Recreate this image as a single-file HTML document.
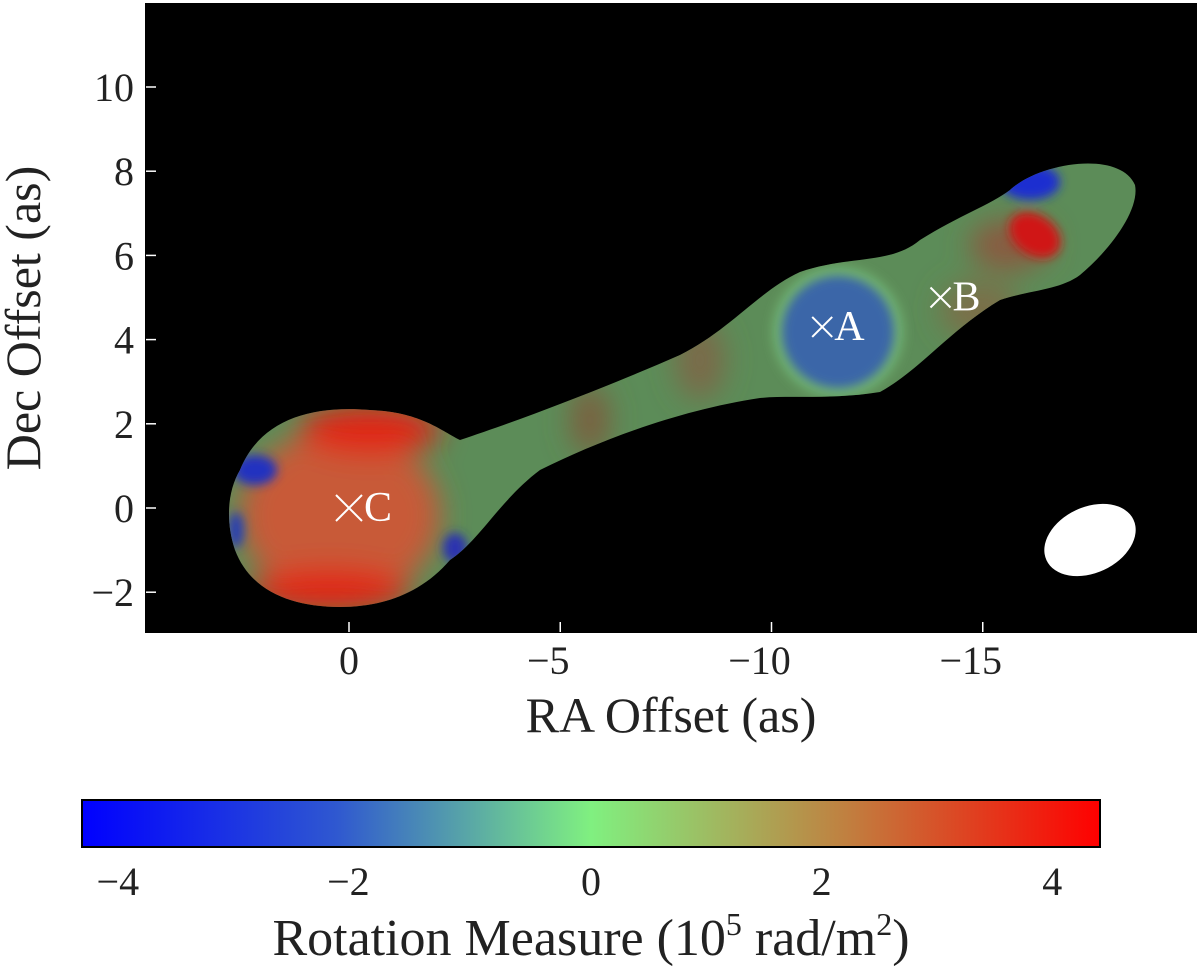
<!DOCTYPE html>
<html><head><meta charset="utf-8"><style>
body{margin:0;background:#fff;}
svg text{font-family:"Liberation Serif",serif;fill:#222;}
</style></head><body>
<svg id="c" width="1200" height="970" xmlns="http://www.w3.org/2000/svg">
<defs>
<clipPath id="blobClip"><path d="M240,470 C260,420 310,405 370,410 C420,412 440,430 460,440 C520,420 600,390 680,355 C730,330 760,290 800,272 C850,255 890,265 920,240 C960,215 990,205 1010,190 C1040,162 1120,150 1135,185 C1140,210 1110,250 1080,275 C1060,290 1030,290 1000,300 C950,330 920,370 880,392 C830,400 790,395 760,398 C680,410 600,440 540,470 C500,500 480,540 450,560 C420,595 380,607 340,607 C290,607 250,590 235,550 C225,520 228,490 240,470 Z"/></clipPath>
<filter id="bl" x="-50%" y="-50%" width="200%" height="200%"><feGaussianBlur stdDeviation="14"/></filter>
<filter id="bl2" x="-50%" y="-50%" width="200%" height="200%"><feGaussianBlur stdDeviation="5"/></filter>
<linearGradient id="cbar" x1="0" x2="1">
<stop offset="0" stop-color="#0000ff"/><stop offset="0.25" stop-color="#2f58d0"/><stop offset="0.5" stop-color="#80f080"/><stop offset="0.75" stop-color="#c08040"/><stop offset="1" stop-color="#ff0000"/>
</linearGradient>
</defs>
<rect x="146" y="4" width="1050" height="628" fill="#000"/>
<g clip-path="url(#blobClip)">
<rect x="146" y="4" width="1050" height="628" fill="#5c8c58"/>
<g filter="url(#bl)">
<ellipse cx="340" cy="515" rx="100" ry="85" fill="#c85a38"/>
<ellipse cx="370" cy="430" rx="70" ry="25" fill="#e02818"/>
<ellipse cx="330" cy="590" rx="80" ry="22" fill="#e02818"/>
<ellipse cx="700" cy="360" rx="25" ry="40" fill="#7a6a48"/>
<ellipse cx="590" cy="420" rx="20" ry="35" fill="#7a6040"/>
<ellipse cx="980" cy="310" rx="40" ry="30" fill="#7a7048"/>
<ellipse cx="1010" cy="245" rx="40" ry="25" fill="#8a5a40"/>
</g>
<circle cx="838" cy="332" r="66" fill="#70b070" filter="url(#bl2)"/>
<circle cx="838" cy="332" r="56" fill="#3a66a8" filter="url(#bl2)"/>
<g filter="url(#bl2)">
<ellipse cx="1035" cy="235" rx="28" ry="20" transform="rotate(35 1035 235)" fill="#d01818"/>
<ellipse cx="1030" cy="182" rx="30" ry="18" fill="#1a2ed0"/>
<ellipse cx="255" cy="470" rx="22" ry="15" fill="#2030c0"/>
<ellipse cx="455" cy="548" rx="12" ry="15" fill="#2a30b0"/>
<ellipse cx="236" cy="530" rx="8" ry="18" fill="#2a40b0"/>
</g>
</g>
<ellipse cx="1090" cy="540" rx="48" ry="33" transform="rotate(-25 1090 540)" fill="#fff"/>
<rect x="146" y="4" width="1050" height="628" fill="none" stroke="#000" stroke-width="2"/>
<g id="axes"></g>
<g id="marks"></g>
<text x="671" y="732" font-size="50" text-anchor="middle">RA Offset (as)</text>
<text transform="translate(40 318) rotate(-90)" font-size="50" text-anchor="middle">Dec Offset (as)</text>
<rect x="82" y="800" width="1018" height="47" fill="url(#cbar)" stroke="#000" stroke-width="2"/>
<text x="591" y="955" font-size="52" text-anchor="middle">Rotation Measure (10<tspan font-size="32" dy="-20">5</tspan><tspan dy="20"> rad/m</tspan><tspan font-size="32" dy="-20">2</tspan><tspan dy="20">)</tspan></text>
</svg>
<script>
const xTicks=[0,-5,-10,-15];
const yTicks=[-2,0,2,4,6,8,10];
const cbTicks=[-4,-2,0,2,4];
const sourceNames=["C","A","B"];
const sourceRA=[0,-11.2,-14];
const sourceDec=[0,4.3,5];
const X=v=>349-42.25*v, Y=v=>508-42.1*v, CB=v=>591+115.3*v;
const NS="http://www.w3.org/2000/svg";
const ax=document.getElementById('axes'), mk=document.getElementById('marks');
function mkEl(t,a,p){const e=document.createElementNS(NS,t);for(const k in a)e.setAttribute(k,a[k]);p.appendChild(e);return e;}
const lab=v=>(v<0?'\u2212'+(-v):''+v);
xTicks.forEach(v=>{
 const l=mkEl('line',{x1:X(v),x2:X(v),y1:632,y2:622,stroke:'#fff','stroke-width':1.5},ax);
 
 
 const t=mkEl('text',{x:X(v)-(v<0?12:0),y:674,'font-size':40,'text-anchor':'middle'},ax);t.textContent=lab(v);
 
 
});
yTicks.forEach(v=>{
 const l=mkEl('line',{x1:146,x2:156,y1:Y(v),y2:Y(v),stroke:'#fff','stroke-width':1.5},ax);
 
 
 const t=mkEl('text',{x:134,y:Y(v)+14,'font-size':40,'text-anchor':'end'},ax);t.textContent=lab(v);
 
 
});
cbTicks.forEach(v=>{
 const l=mkEl('line',{x1:CB(v),x2:CB(v),y1:847,y2:837,stroke:'#000','stroke-width':1.5},ax);
 
 
 const t=mkEl('text',{x:CB(v)-(v<0?12:0),y:895,'font-size':40,'text-anchor':'middle'},ax);t.textContent=lab(v);
 
 
});
sourceNames.forEach((n,i)=>{
 const x=X(sourceRA[i]),y=Y(sourceDec[i]),s=n==='C'?13:10;
 const g=mkEl('g',{},mk);
 
 
 mkEl('path',{d:`M${x-s},${y-s}L${x+s},${y+s}M${x-s},${y+s}L${x+s},${y-s}`,stroke:'#fff','stroke-width':2},g);
 const t=mkEl('text',{x:x+s+2,y:y+13,'font-size':42},g);t.style.fill='#fff';t.textContent=n;
});
</script>
</body></html>
